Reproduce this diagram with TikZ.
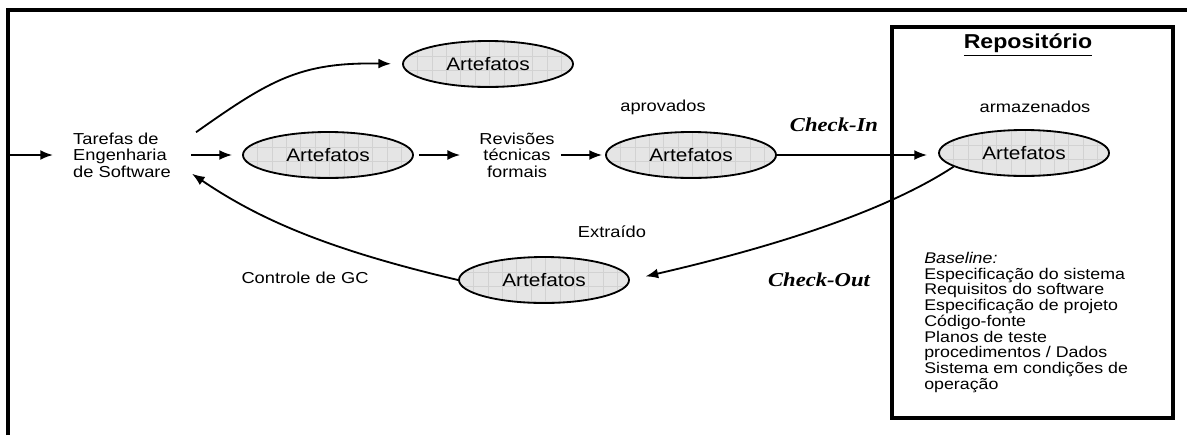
\documentclass[tikz,border=0pt]{standalone}
\usepackage{fontspec}
\setmainfont{Liberation Sans}[FakeStretch=1.15]
\newfontfamily\chkfont{Liberation Serif}[FakeStretch=1.15]
\usepackage{tikz}
\usetikzlibrary{shapes.geometric,arrows.meta}

\begin{document}
\begin{tikzpicture}[x=0.025cm, y=-0.025cm, font=\fontsize{11.3}{11.85}\selectfont,
		art/.style={ellipse, draw, line width=1.3pt, fill=gray!20, minimum width=4.25cm, minimum height=1.15cm, inner sep=0pt,
			font=\fontsize{12.9}{14}\selectfont,
			path picture={\draw[gray!35, line width=0.3pt] (path picture bounding box.south west) grid[step=0.36cm] (path picture bounding box.north east);}},
		txt/.style={inner sep=0pt, align=center},
		chk/.style={inner sep=0pt, font=\chkfont\fontsize{14}{15}\selectfont\bfseries\itshape},
		arr/.style={line width=1.3pt, -{Latex[length=9pt,width=7pt]}}]
			\useasboundingbox (0,0) rectangle (1187,435);
			%\draw[help lines] (0,0) grid[step=1cm] (1187,435);
			\draw[line width=2.4pt] (8,435) -- (8,10) -- (1187,10);
			\draw[line width=2.4pt] (892,27) rectangle (1173,418);
			\coordinate (entry) at (8,155);

			\node[txt, align=left] (tarefas) at (122,155) {Tarefas de\\Engenharia\\de Software};
			\node[art] (top) at (488,64) {Artefatos};
			\node[art] (work) at (328,155) {Artefatos};
			\node[txt] (rev) at (517,155) {Revisões\\técnicas\\formais};
			\node[art] (aprov) at (691,155) {Artefatos};
			\node[art] (stored) at (1024,153) {Artefatos};
			\node[art] (extr) at (544,280) {Artefatos};

			\node[txt] at (663,107) {aprovados};
			\node[txt] at (1035,107) {armazenados};
			\node[txt] at (612,232) {Extraído};
			\node[txt] at (305,278) {Controle de GC};
			\node[chk] at (834,125) {Check-In};
			\node[chk] at (819,280) {Check-Out};
			\node[inner sep=0pt, font=\fontsize{14.3}{15}\selectfont\bfseries] at (1028,45) {\underline{Repositório}};
			\node[txt, align=left, anchor=north west, font=\fontsize{11}{11.2}\selectfont] (base) at (924,252)
				{\textit{Baseline:}\\Especificação do sistema\\Requisitos do software\\Especificação de projeto\\Código-fonte\\Planos de teste\\procedimentos / Dados\\Sistema em condições de\\operação};

			\draw[arr, shorten >=0.5cm] (entry) -- (tarefas.west);
			\draw[arr, shorten <=0.5cm, shorten >=0.25cm] (tarefas.east) -- (work.west);
			\draw[arr, shorten <=0.125cm, shorten >=0.475cm] (work.east) -- (rev.west);
			\draw[arr, shorten <=0.15cm, shorten >=0.075cm] (rev.east) -- (aprov.west);
			\draw[arr, shorten >=0.275cm] (aprov.east) -- (stored.west |- aprov.east);
			\draw[arr, shorten >=0.275cm] ([xshift=0.625cm]tarefas.north east) .. controls (270,80) and (300,62) .. (top.west);
			\draw[arr, shorten >=0.4cm] (stored.191) .. controls (880,215) and (760,250) .. (extr.east);
			\draw[arr] (extr.west) .. controls (330,250) and (260,220) .. ([xshift=0.525cm,yshift=0.1cm]tarefas.south east);
		\end{tikzpicture}
\end{document}
